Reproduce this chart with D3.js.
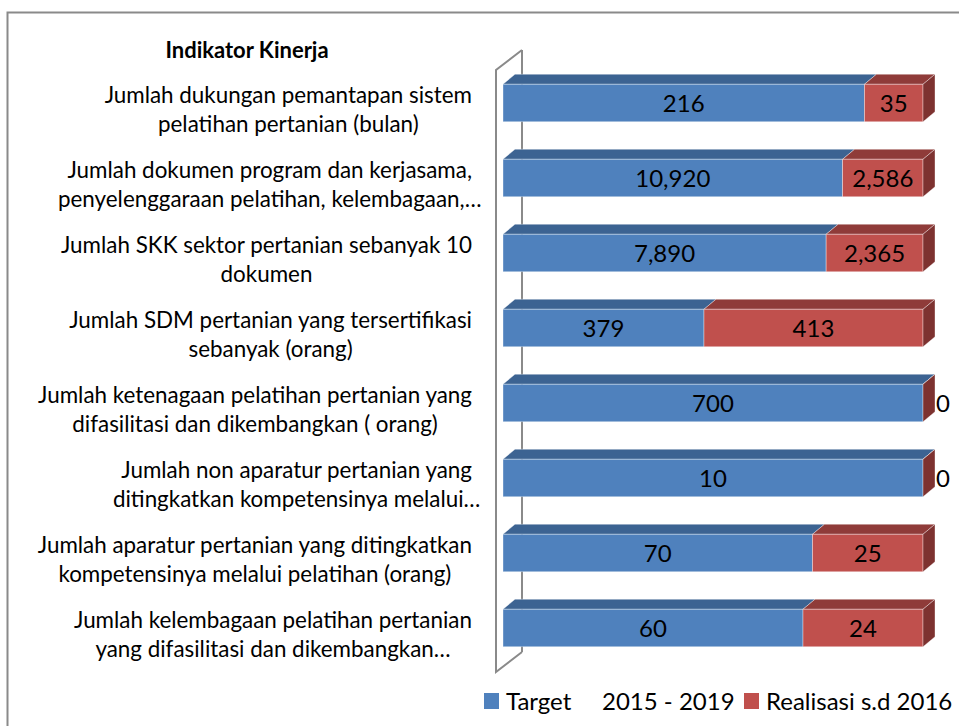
<!DOCTYPE html>
<html><head><meta charset="utf-8">
<script src="https://cdn.jsdelivr.net/npm/d3@7/dist/d3.min.js"></script>
<style>
html,body{margin:0;padding:0;background:#fff;}
svg text{font-family:Lato,"Open Sans",sans-serif;fill:#000;}
</style></head>
<body><svg id="chart" width="959" height="726"></svg>
<script>
// ---- data ----
const categories = [
  ["Jumlah dukungan pemantapan sistem", "pelatihan pertanian (bulan)"],
  ["Jumlah dokumen program dan kerjasama,", "penyelenggaraan pelatihan, kelembagaan,…"],
  ["Jumlah SKK sektor pertanian sebanyak 10", "dokumen"],
  ["Jumlah SDM pertanian yang tersertifikasi", "sebanyak (orang)"],
  ["Jumlah ketenagaan pelatihan pertanian yang", "difasilitasi dan dikembangkan ( orang)"],
  ["Jumlah non aparatur pertanian yang", "ditingkatkan kompetensinya melalui…"],
  ["Jumlah aparatur pertanian yang ditingkatkan", "kompetensinya melalui pelatihan (orang)"],
  ["Jumlah kelembagaan pelatihan pertanian", "yang difasilitasi dan dikembangkan…"]
];
const target = [216, 10920, 7890, 379, 700, 10, 70, 60];
const realisasi = [35, 2586, 2365, 413, 0, 0, 25, 24];
const seriesNames = ["Target     2015 - 2019", "Realisasi s.d 2016"];
const axisTitle = "Indikator Kinerja";

// ---- layout ----
const svg = d3.select("#chart");
const W = 959, H = 726;
const colors = [
  {front:"#4F81BD", top:"#3C6392", side:"#355A86"},
  {front:"#C0504D", top:"#8F3B39", side:"#7D3230"}
];
const dx = 12, dy = -10;        // bar depth offset
const wdx = 26, wdy = -20;      // wall depth offset

const rows = categories.map((c, i) => ({i, lines: c, t: target[i], r: realisasi[i]}));
const stack = d3.stack().keys(["t", "r"]).offset(d3.stackOffsetExpand);
const series = stack(rows);

const x = d3.scaleLinear().domain([0, 1]).range([503, 923]);
const y = d3.scaleBand().domain(d3.range(categories.length))
  .range([65.5, 665.5]).paddingInner(0.5).paddingOuter(0.25);
const fmt = d3.format(",");

// outer frame
svg.append("rect").attr("x", 7.5).attr("y", 12.5).attr("width", W + 20).attr("height", H + 20)
  .attr("fill", "none").attr("stroke", "#8a8a8a").attr("stroke-width", 2);

// wall
const wallX = x(0) - 7, wallTop = y.range()[0] + 4.5, wallBot = y.range()[1] + 6.5;
svg.append("line").attr("x1", wallX + wdx).attr("x2", wallX + wdx)
  .attr("y1", wallTop + wdy).attr("y2", wallBot + wdy)
  .attr("stroke", "#8a8a8a").attr("stroke-width", 2);
svg.append("path")
  .attr("d", `M${wallX + wdx},${wallTop + wdy}L${wallX},${wallTop}L${wallX},${wallBot}L${wallX + wdx},${wallBot + wdy}`)
  .attr("fill", "none").attr("stroke", "#8a8a8a").attr("stroke-width", 2);

// bars
const bh = y.bandwidth();
const edge = "rgba(255,255,255,0.45)";
series.forEach((s, si) => {
  const g = svg.append("g");
  s.forEach((d, i) => {
    const x0 = x(d[0]), x1 = x(d[1]), yt = y(i);
    // top face
    g.append("path")
      .attr("d", `M${x0},${yt}L${x0 + dx},${yt + dy}L${x1 + dx},${yt + dy}L${x1},${yt}Z`)
      .attr("fill", colors[si].top).attr("stroke", edge).attr("stroke-width", 0.8);
    // front face
    g.append("rect").attr("x", x0).attr("y", yt).attr("width", Math.max(0, x1 - x0)).attr("height", bh)
      .attr("fill", colors[si].front).attr("stroke", edge).attr("stroke-width", 0.8);
    // right side face on last segment
    if (si === series.length - 1) {
      g.append("path")
        .attr("d", `M${x1},${yt}L${x1 + dx},${yt + dy}L${x1 + dx},${yt + bh + dy}L${x1},${yt + bh}Z`)
        .attr("fill", colors[si].side).attr("stroke", edge).attr("stroke-width", 0.8);
    }
  });
});

// value labels
series.forEach((s, si) => {
  s.forEach((d, i) => {
    const v = si === 0 ? target[i] : realisasi[i];
    const x0 = x(d[0]), x1 = x(d[1]);
    const cy = y(i) + bh / 2;
    const t = svg.append("text").attr("font-size", 24).attr("y", cy + 9).text(fmt(v));
    if (v === 0) t.attr("x", x1 + 13).attr("text-anchor", "start");
    else t.attr("x", (x0 + x1) / 2).attr("text-anchor", "middle");
  });
});

// category labels
const labelRight = 472;
rows.forEach(r => {
  const cy = y(r.i) + bh / 2;
  const t1 = svg.append("text").attr("font-size", 22.4).attr("x", labelRight).attr("y", cy)
    .attr("text-anchor", "end").text(r.lines[0]);
  const w1 = t1.node().getComputedTextLength();
  svg.append("text").attr("font-size", 22.4).attr("x", labelRight - w1 / 2).attr("y", cy + 29)
    .attr("text-anchor", "middle").text(r.lines[1]);
});

// axis title
svg.append("text").attr("x", 247).attr("y", 58).attr("text-anchor", "middle")
  .attr("font-size", 22).attr("font-weight", "bold").text(axisTitle);

// legend
const legX = [484, 744];
seriesNames.forEach((n, i) => {
  svg.append("rect").attr("x", legX[i]).attr("y", 693).attr("width", 15).attr("height", 16)
    .attr("fill", colors[i].front);
  svg.append("text").attr("x", legX[i] + 22).attr("y", 710).attr("font-size", 24)
    .style("white-space", "pre").text(n);
});
</script></body></html>
